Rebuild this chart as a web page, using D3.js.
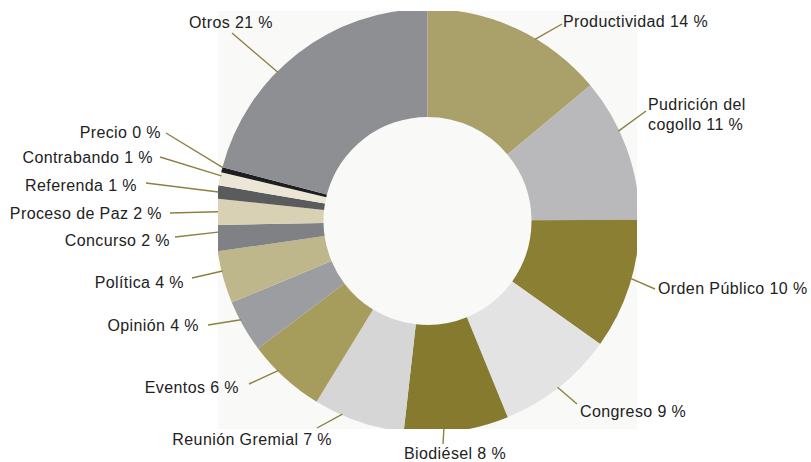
<!DOCTYPE html>
<html>
<head>
<meta charset="utf-8">
<script src="https://cdn.jsdelivr.net/npm/d3@7"></script>
<style>
  html, body { margin: 0; padding: 0; background: #ffffff; }
  svg { display: block; }
  text { font-family: "Liberation Sans", Arial, sans-serif; font-size: 16px; letter-spacing: 0.4px; fill: #222222; }
</style>
</head>
<body>
<svg id="chart" width="811" height="462"></svg>
<script>
// ---- data ----
const categories = ["Productividad", "Pudrición del cogollo", "Orden Público", "Congreso", "Biodiésel",
  "Reunión Gremial", "Eventos", "Opinión", "Política", "Concurso", "Proceso de Paz",
  "Referenda", "Contrabando", "Precio", "Otros"];
const shares = [14, 11, 10, 9, 8, 7, 6, 4, 4, 2, 2, 1, 1, 0.4, 21];
const labelLines = [["Productividad 14 %"], ["Pudrición del", "cogollo 11 %"], ["Orden Público 10 %"],
  ["Congreso 9 %"], ["Biodiésel 8 %"], ["Reunión Gremial 7 %"], ["Eventos 6 %"], ["Opinión 4 %"],
  ["Política 4 %"], ["Concurso 2 %"], ["Proceso de Paz 2 %"], ["Referenda 1 %"], ["Contrabando 1 %"],
  ["Precio 0 %"], ["Otros 21 %"]];

// ---- styles / layout ----
const colors = ["#a9a06a", "#b9b9bb", "#8b7f34", "#e3e3e3", "#867a2f", "#d6d6d7", "#a69c5b",
  "#9c9da0", "#bfb78c", "#808184", "#d8d1b3", "#5a5b5d", "#ebe6d5", "#1e1e1e", "#8e8f92"];
// fraction along slice for leader start
const leaderFrac = [0.61, 0.37, 0.45, 0.51, 0.62, 0.69, 0.62, 0.63, 0.62, 0.73, 0.5, 0.5, 0.75, 0.9, 0.40];
// label anchor: text x, baseline y, text-anchor, leader end x,y
const labelLayout = [
  {tx: 563, ty: 27, a: "start", lx: 562, ly: 24},
  {tx: 648, ty: 110, a: "start", lx: 646, ly: 111},
  {tx: 658, ty: 294, a: "start", lx: 655, ly: 289},
  {tx: 580, ty: 417, a: "start", lx: 577, ly: 404},
  {tx: 404, ty: 459, a: "start", lx: 443, ly: 444},
  {tx: 332, ty: 445, a: "end", lx: 317, ly: 428},
  {tx: 239, ty: 393, a: "end", lx: 249, ly: 384},
  {tx: 199, ty: 331, a: "end", lx: 208, ly: 325},
  {tx: 184, ty: 288, a: "end", lx: 192, ly: 278},
  {tx: 170, ty: 246, a: "end", lx: 175, ly: 237},
  {tx: 162, ty: 219, a: "end", lx: 170, ly: 213},
  {tx: 137, ty: 191, a: "end", lx: 146, ly: 183},
  {tx: 153, ty: 163, a: "end", lx: 160, ly: 157},
  {tx: 161, ty: 138, a: "end", lx: 166, ly: 133},
  {tx: 273, ty: 28, a: "end", lx: 232, ly: 33}
];

const cx = 427.5, cy = 221, R = 212, r = 104;
const box = {x0: 218, y0: 11, x1: 637, y1: 429};

const svg = d3.select("#chart");

svg.append("defs").append("clipPath").attr("id", "boxclip")
  .append("rect").attr("x", box.x0).attr("y", box.y0)
  .attr("width", box.x1 - box.x0).attr("height", box.y1 - box.y0);

svg.append("rect").attr("x", box.x0).attr("y", box.y0)
  .attr("width", box.x1 - box.x0).attr("height", box.y1 - box.y0)
  .attr("fill", "#f9f9f8");

const pie = d3.pie().sort(null).value(d => d)(shares);
const arc = d3.arc().innerRadius(r).outerRadius(R);

const g = svg.append("g").attr("clip-path", "url(#boxclip)")
  .append("g").attr("transform", `translate(${cx},${cy})`);

g.selectAll("path.slice").data(pie).join("path")
  .attr("class", "slice")
  .attr("d", arc)
  .attr("fill", (d, i) => colors[i]);

// leaders
const leaders = svg.append("g");
pie.forEach((d, i) => {
  const ang = d.startAngle + leaderFrac[i] * (d.endAngle - d.startAngle);
  const rr = R - 1;
  let x0 = cx + rr * Math.sin(ang), y0 = cy - rr * Math.cos(ang);
  x0 = Math.max(box.x0, Math.min(box.x1, x0));
  y0 = Math.max(box.y0, Math.min(box.y1, y0));
  const L = labelLayout[i];
  leaders.append("line")
    .attr("x1", x0).attr("y1", y0).attr("x2", L.lx).attr("y2", L.ly)
    .attr("stroke", "#8d8040").attr("stroke-width", 1.4);
});

// labels
const labels = svg.append("g");
labelLines.forEach((lines, i) => {
  const L = labelLayout[i];
  const t = labels.append("text").attr("x", L.tx).attr("y", L.ty).attr("text-anchor", L.a);
  lines.forEach((s, k) => {
    t.append("tspan").attr("x", L.tx).attr("dy", k === 0 ? 0 : 20).text(s);
  });
});
</script>
</body>
</html>
